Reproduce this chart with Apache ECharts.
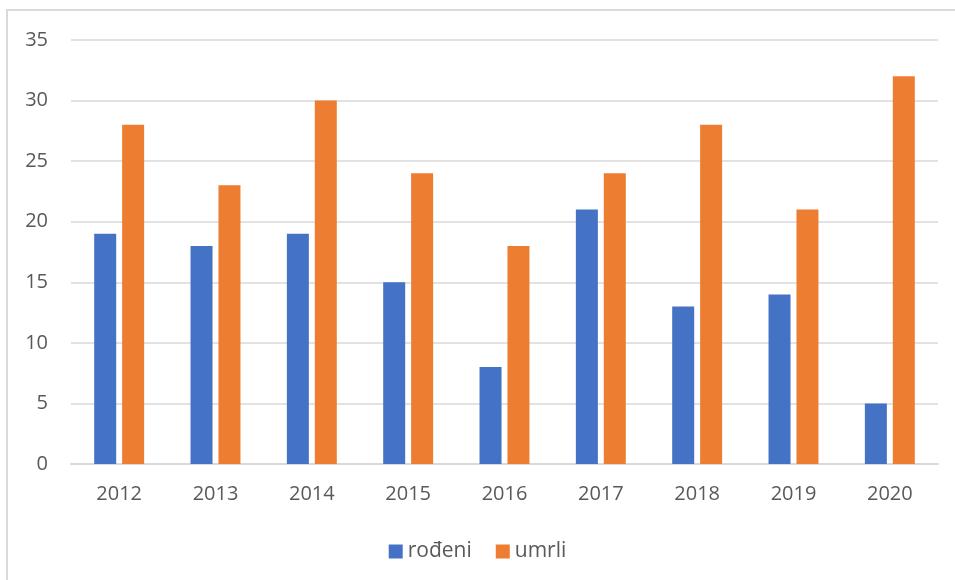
<!DOCTYPE html>
<html>
<head>
<meta charset="utf-8">
<script src="https://cdn.jsdelivr.net/npm/echarts@6/dist/echarts.min.js"></script>
<style>
  html, body { margin: 0; padding: 0; background: #fff; overflow: hidden; }
  #frame { position: absolute; left: 6px; top: 9px; width: 1000px; height: 700px;
           border-left: 2px solid #d9d9d9; border-top: 2px solid #d9d9d9; }
  #main { position: absolute; left: 0; top: 0; width: 955px; height: 580px; }
</style>
</head>
<body>
<div id="frame"></div>
<div id="main"></div>
<script>
// godine
var years = ['2012', '2013', '2014', '2015', '2016', '2017', '2018', '2019', '2020'];
// broj rođenih / umrlih
var rodeni = [19, 18, 19, 15, 8, 21, 13, 14, 5];
var umrli = [28, 23, 30, 24, 18, 24, 28, 21, 32];

var chart = echarts.init(document.getElementById('main'));
var txt = '#595959', fnt = '"Open Sans", "Noto Sans", sans-serif';

chart.setOption({
    animation: false,
    textStyle: {fontFamily: fnt},
    grid: {left: 71, right: 17, top: 40, bottom: 116},
    legend: {
        top: 536, left: 'center', itemWidth: 14, itemHeight: 14, itemGap: 24,
        icon: 'rect',
        textStyle: {color: txt, fontSize: 21, fontFamily: fnt, padding: [0, 0, 0, 0]},
        data: ['rođeni', 'umrli']
    },
    xAxis: {
        type: 'category', data: years,
        axisLine: {lineStyle: {color: '#d9d9d9', width: 2}},
        axisTick: {show: false},
        axisLabel: {color: txt, fontSize: 20, margin: 20}
    },
    yAxis: {
        type: 'value', min: 0, max: 35, interval: 5,
        axisLine: {show: false}, axisTick: {show: false},
        axisLabel: {color: txt, fontSize: 20, margin: 23},
        splitLine: {lineStyle: {color: '#d9d9d9', width: 1.5}}
    },
    series: [
        {name: 'rođeni', type: 'bar', data: rodeni, barWidth: 22, barGap: '27%',
         itemStyle: {color: '#4472c4'}},
        {name: 'umrli', type: 'bar', data: umrli, barWidth: 22,
         itemStyle: {color: '#ed7d31'}}
    ]
});
window.onresize = chart.resize;
</script>
</body>
</html>
